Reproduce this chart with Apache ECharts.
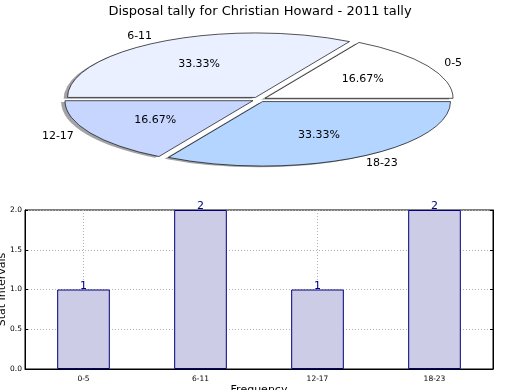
<!DOCTYPE html>
<html>
<head>
<meta charset="utf-8">
<script src="https://cdn.jsdelivr.net/npm/echarts@6/dist/echarts.min.js"></script>
<style>
  html, body { margin: 0; padding: 0; background: #fff; }
  #chart { width: 520px; height: 390px; }
</style>
</head>
<body>
<div id="chart"></div>
<script>
// ---- data ----
const titleText = 'Disposal tally for Christian Howard - 2011 tally';
const categories = ['0-5', '6-11', '12-17', '18-23'];
const pieValues = [1, 2, 1, 2];
const barValues = [1, 2, 1, 2];
const yTickLabels = ['0.0', '0.5', '1.0', '1.5', '2.0'];
const pieColors = ['#ffffff', '#eaf0ff', '#c6d6ff', '#b4d5ff'];

// ---- pie geometry (ellipse drawn via scaled group) ----
const PIE = { cx: 259, cy: 99.5, r: 188, s: 0.343, d: 7 };
const FONT = 'DejaVu Sans';

const total = pieValues.reduce((a, b) => a + b, 0);

function renderPie(params, api) {
  const i = params.dataIndex;
  const v = api.value(0);
  let cum = 0;
  for (let j = 0; j < i; j++) cum += pieValues[j];
  const t1 = cum / total * Math.PI * 2;
  const t2 = (cum + v) / total * Math.PI * 2;
  const tm = (t1 + t2) / 2;
  const ox = PIE.d * Math.cos(tm);
  const oy = -PIE.d * Math.sin(tm);
  const c = Math.cos(tm), sn = Math.sin(tm);
  const lx = PIE.cx + 1.1 * PIE.r * c + ox;
  const ly = PIE.cy + PIE.s * (-1.1 * PIE.r * sn + oy);
  const px = PIE.cx + 0.6 * PIE.r * c + ox;
  const py = PIE.cy + PIE.s * (-0.6 * PIE.r * sn + oy);
  return {
    type: 'group',
    children: [
      {
        type: 'group', x: PIE.cx, y: PIE.cy, scaleY: PIE.s,
        children: [
          {
            type: 'sector', z2: 0,
            shape: { cx: ox - 3.8, cy: oy + 1.3 / PIE.s, r0: 0, r: PIE.r,
                     startAngle: -t2, endAngle: -t1, clockwise: true },
            style: { fill: 'rgba(70,70,80,0.5)' }
          },
          {
            type: 'sector', z2: 10,
            shape: { cx: ox, cy: oy, r0: 0, r: PIE.r,
                     startAngle: -t2, endAngle: -t1, clockwise: true },
            style: { fill: pieColors[i], stroke: '#000', lineWidth: 1, strokeNoScale: true }
          }
        ]
      },
      {
        type: 'text', z2: 20, x: lx, y: ly,
        style: { text: categories[i], fill: '#000', font: '11px "' + FONT + '"',
                 align: c >= 0 ? 'left' : 'right', verticalAlign: 'middle' }
      },
      {
        type: 'text', z2: 20, x: px, y: py,
        style: { text: (v / total * 100).toFixed(2) + '%', fill: '#000', font: '11px "' + FONT + '"',
                 align: 'center', verticalAlign: 'middle' }
      }
    ]
  };
}

const chart = echarts.init(document.getElementById('chart'), null, { renderer: 'canvas' });
const dotted = { show: true, lineStyle: { color: '#b0b0b0', type: [1, 2], width: 1 } };

chart.setOption({
  animation: false,
  backgroundColor: '#fff',
  textStyle: { fontFamily: FONT },
  title: {
    text: titleText, left: 'center', top: 0,
    textStyle: { fontFamily: FONT, fontSize: 13, fontWeight: 'normal', color: '#000' }
  },
  grid: { left: 25, right: 27, top: 210, bottom: 21, show: true, borderColor: '#000', borderWidth: 1,
          containLabel: false, outerBoundsMode: 'none' },
  xAxis: {
    type: 'category', data: categories,
    axisLine: { lineStyle: { color: '#000' } },
    axisTick: { alignWithLabel: true, inside: true, length: 3, lineStyle: { color: '#000' } },
    axisLabel: { fontSize: 7.5, color: '#000', margin: 6, fontFamily: FONT },
    splitLine: Object.assign({ alignWithLabel: true }, dotted),
    name: 'Frequency', nameLocation: 'middle', nameGap: 16, nameMoveOverlap: false,
    nameTextStyle: { fontSize: 11, color: '#000', fontFamily: FONT }
  },
  yAxis: [{
    type: 'value', min: 0, max: 2, interval: 0.5,
    axisLine: { show: true, lineStyle: { color: '#000' } },
    axisTick: { show: true, inside: true, length: 3, lineStyle: { color: '#000' } },
    axisLabel: { fontSize: 7.5, color: '#000', margin: 3, fontFamily: FONT,
                 formatter: (v) => yTickLabels[Math.round(v / 0.5)] },
    splitLine: dotted,
    name: 'Stat Intervals', nameLocation: 'middle', nameGap: 17, nameRotate: 90, nameMoveOverlap: false,
    nameTextStyle: { fontSize: 11, color: '#000', fontFamily: FONT }
  }, {
    type: 'value', position: 'right', min: 0, max: 2, interval: 0.5,
    axisLine: { show: true, lineStyle: { color: '#000' } },
    axisTick: { show: true, inside: true, length: 3, lineStyle: { color: '#000' } },
    axisLabel: { show: false }, splitLine: { show: false }
  }],
  series: [
    {
      type: 'custom', coordinateSystem: 'none',
      data: pieValues.map(v => [v]),
      renderItem: renderPie,
      silent: true
    },
    {
      type: 'bar', xAxisIndex: 0, yAxisIndex: 0,
      data: barValues, barWidth: '45%',
      itemStyle: { color: '#ccccE6', borderColor: '#000080', borderWidth: 1 },
      label: { show: true, position: 'top', distance: -2, color: '#00008b', fontSize: 11, fontFamily: FONT }
    }
  ]
});
</script>
</body>
</html>
